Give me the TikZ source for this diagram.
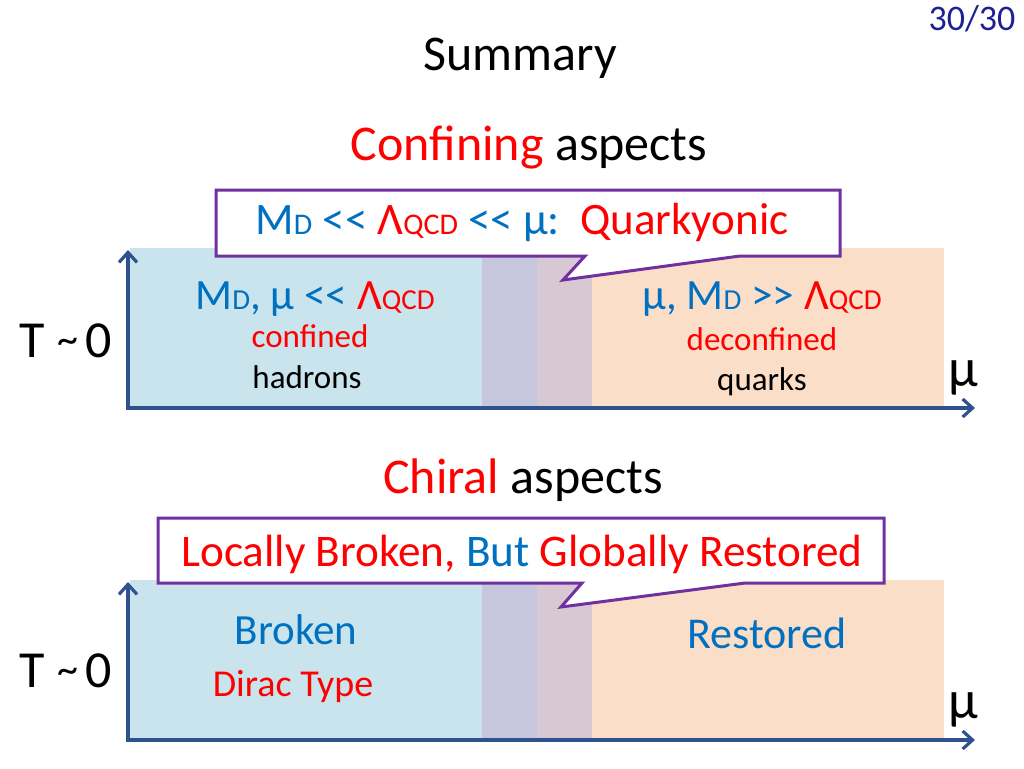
\documentclass[tikz,border=0pt]{standalone}
\usepackage{fontspec}
\setmainfont{Carlito}
\usetikzlibrary{arrows.meta}

\definecolor{textblue}{RGB}{0,112,192}
\definecolor{textred}{RGB}{255,0,0}
\definecolor{pagenavy}{RGB}{32,32,150}
\definecolor{axisblue}{RGB}{47,82,143}
\definecolor{calloutpurple}{RGB}{112,48,160}
\definecolor{zoneblue}{RGB}{201,228,236}
\definecolor{zonelilac}{RGB}{198,198,222}
\definecolor{zonemauve}{RGB}{216,200,212}
\definecolor{zonepeach}{RGB}{250,222,200}

\newcommand{\fsz}[1]{\fontsize{#1}{#1}\selectfont}
\newcommand{\lowsub}[2]{{\fsz{#1}#2}}
\newcommand{\muchless}{<{}<}
\newcommand{\mucharger}{>{}>}
\newcommand{\tzero}{T\hspace{6pt}\raisebox{2pt}{\fsz{21}\textasciitilde}\hspace{4pt}0}

\begin{document}
\begin{tikzpicture}[
    x=0.5pt, y=-0.5pt,
    title/.style={anchor=base, inner sep=0pt, font=\fsz{25}},
    words/.style={anchor=base, inner sep=0pt},
    callout/.style={draw=calloutpurple, line width=1.5pt, fill=white, line join=miter},
    axis/.style={draw=axisblue, line width=1.6pt,
        arrows={Straight Barb[length=5pt,width=9pt]-Straight Barb[length=5pt,width=9pt]}}
]
    \useasboundingbox[fill=white] (0,0) rectangle (1024,768);

    % Headings
    \node[words, font=\fsz{18}, text=pagenavy] (page) at (972,30) {30/30};
    \node[title] (summary) at (520,70) {Summary};
    \node[title] (confhead) at (529,160) {\textcolor{textred}{Confining} aspects};
    \node[title] (chirhead) at (523,493) {\textcolor{textred}{Chiral} aspects};

    % Confining zones
    \fill[zoneblue] (130,248) rectangle (482,408);
    \fill[zonelilac] (482,248) rectangle (537,408);
    \fill[zonemauve] (537,248) rectangle (592,408);
    \fill[zonepeach] (592,248) rectangle (944,408);
    \draw[axis] (128,250) -- (128,408) -- (975,408);

    % Chiral zones
    \fill[zoneblue] (130,580) rectangle (482,740);
    \fill[zonelilac] (482,580) rectangle (537,740);
    \fill[zonemauve] (537,580) rectangle (592,740);
    \fill[zonepeach] (592,580) rectangle (944,740);
    \draw[axis] (128,582) -- (128,740) -- (975,740);

    % Callouts
    \coordinate (tipconf) at (563,280);
    \draw[callout] (216,190) -- (840,190) -- (840,256) -- (740,256) -- (tipconf)
        -- (585,256) -- (216,256) -- cycle;
    \node[words, font=\fsz{22.5}, text=textblue] (quarkyonic) at (522,234)
        {M\lowsub{15}{D} \muchless\ \textcolor{textred}{Λ\lowsub{15}{QCD}} \muchless\ μ:\ \ \textcolor{textred}{Quarkyonic}};

    \coordinate (tipchir) at (561,607);
    \draw[callout] (158,518) -- (884,518) -- (884,583) -- (745,583) -- (tipchir)
        -- (582,583) -- (158,583) -- cycle;
    \node[words, font=\fsz{22.6}, text=textred] (localglobal) at (522,566)
        {Locally Broken, \textcolor{textblue}{But} Globally Restored};

    % Confining labels
    \node[words, font=\fsz{21.6}, text=textblue] (lowmu) at (315,309)
        {M\lowsub{14.5}{D}, μ \muchless\ \textcolor{textred}{Λ\lowsub{14.5}{QCD}}};
    \node[words, font=\fsz{16.5}, text=textred] (confined) at (310,347) {confined};
    \node[words, font=\fsz{16.5}] (hadrons) at (307,388) {hadrons};
    \node[words, font=\fsz{21.6}, text=textblue] (highmu) at (762,309)
        {μ, M\lowsub{14.5}{D} \mucharger\ \textcolor{textred}{Λ\lowsub{14.5}{QCD}}};
    \node[words, font=\fsz{16.5}, text=textred] (deconfined) at (762,350) {deconfined};
    \node[words, font=\fsz{16.5}] (quarks) at (762,390) {quarks};
    \node[words, font=\fsz{27}] (muconf) at (963,386) {μ};
    \node[words, font=\fsz{26}] (tconf) at (66,357) {\tzero};

    % Chiral labels
    \node[words, font=\fsz{21.5}, text=textblue] (broken) at (296,644) {Broken};
    \node[words, font=\fsz{19}, text=textred] (dirac) at (293,696) {Dirac Type};
    \node[words, font=\fsz{22}, text=textblue] (restored) at (767,648) {Restored};
    \node[words, font=\fsz{27}] (muchir) at (963,718) {μ};
    \node[words, font=\fsz{26}] (tchir) at (66,687) {\tzero};
\end{tikzpicture}
\end{document}
